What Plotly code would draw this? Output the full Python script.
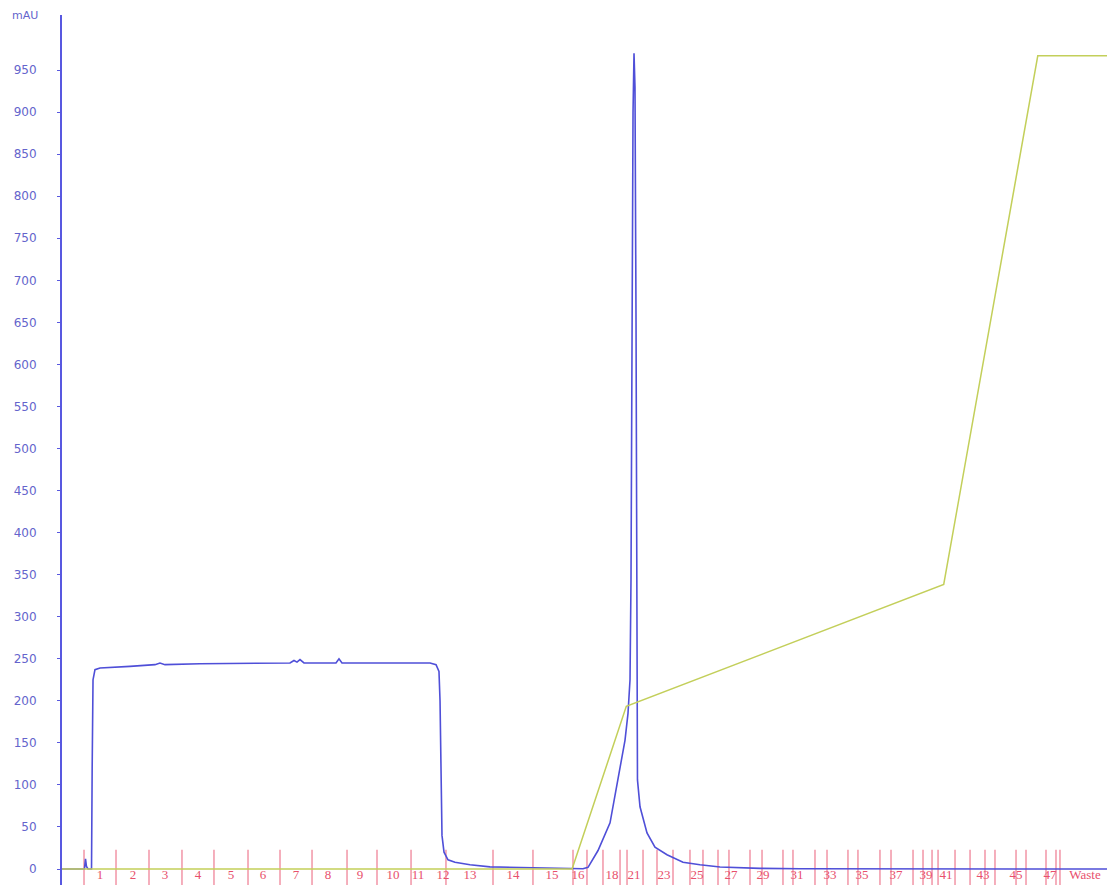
import plotly.graph_objects as go

# UV 280 nm trace (volume in ml, absorbance in mAU)
uv_ml = [0, 2.76, 3.44, 3.60, 3.75, 3.98, 4.52, 4.62, 4.75, 5.05, 5.82, 10.41, 14.24, 15.0,
         15.77, 21.13, 34.91, 35.52, 35.98, 36.44, 37.05, 41.95, 42.41, 42.87, 56.35, 57.27,
         57.72, 57.88, 58.03, 58.18, 58.49, 59.10, 60.17, 62.47, 65.53, 71.66, 79.77, 80.54,
         82.07, 83.91, 85.13, 86.20, 86.66, 86.97, 87.12, 87.27, 87.43, 87.58, 87.73, 87.89,
         88.04, 88.11, 88.50, 89.57, 90.79, 92.63, 95.08, 97.68, 100.75, 106.87, 113.0, 160.0]
uv_mau = [0, 0, 0, 12, 3, 0, 0, 120, 225, 237, 239, 241, 243, 245,
          243, 244, 245, 248, 246, 249, 245, 245, 250, 245, 245, 243,
          235, 200, 100, 40, 20, 11, 8, 5, 2.5, 1.2, 0.3, 2,
          22, 55, 106, 153, 185, 225, 344, 650, 900, 970, 930, 650,
          344, 106, 74, 43, 26, 17, 8, 5, 2.4, 0.8, 0.3, 0]

# Gradient programme (%B)
grad_ml = [0, 78.1, 86.4, 135.0, 149.4, 160.0]
grad_pct = [0, 0, 20, 35, 100, 100]

# Fraction collector marks (ml)
frac_ml = [3.37, 8.27, 13.32, 18.37, 23.27, 28.48, 33.38, 38.28, 43.64, 48.23, 53.44, 58.79,
           65.99, 72.11, 78.24, 80.38, 82.83, 85.44, 86.51, 88.96, 91.10, 93.55, 96.15, 98.14,
           100.44, 102.12, 105.34, 107.18, 110.39, 111.92, 115.29, 117.13, 120.34, 121.87,
           125.24, 126.93, 130.30, 131.83, 133.21, 134.13, 136.73, 139.03, 141.32, 142.85,
           146.07, 147.60, 150.66, 152.19, 152.80]

# Fraction labels and where they are printed (ml)
frac_labels = ["1", "2", "3", "4", "5", "6", "7", "8", "9", "10", "11", "12", "13", "14", "15",
               "16", "18", "21", "23", "25", "27", "29", "31", "33", "35", "37", "39", "41",
               "43", "45", "47", "Waste"]
frac_label_ml = [5.82, 10.87, 15.77, 20.82, 25.88, 30.78, 35.83, 40.73, 45.63, 50.68, 54.51,
                 58.33, 62.47, 69.05, 75.02, 79.00, 84.21, 87.58, 92.17, 97.22, 102.43, 107.33,
                 112.54, 117.59, 122.49, 127.69, 132.29, 135.35, 141.01, 146.07, 151.27, 156.63]

y_ticks = list(range(0, 951, 50))

Y_MIN, Y_MAX = -19.0, 1015.5
GRAD_FULL = 967.0  # mAU level drawn for 100 %B

AXIS_BLUE = "#5858e0"
LABEL_BLUE = "#6464cc"

fig = go.Figure()

# fraction marks as short vertical strokes across the baseline
fx, fy = [], []
for v in frac_ml:
    fx += [v, v, None]
    fy += [23, -19, None]
fig.add_trace(go.Scatter(x=fx, y=fy, mode="lines",
                         line=dict(color="#ee7a90", width=1.2),
                         hoverinfo="skip", showlegend=False))

fig.add_trace(go.Scatter(x=grad_ml, y=grad_pct, yaxis="y2", mode="lines",
                         line=dict(color="#c3cf5a", width=1.5),
                         name="Conc B", showlegend=False))

fig.add_trace(go.Scatter(x=uv_ml, y=uv_mau, mode="lines",
                         line=dict(color="#4f4fd8", width=1.6),
                         name="UV", showlegend=False))

fig.add_trace(go.Scatter(x=frac_label_ml, y=[-8.3] * len(frac_label_ml), mode="text",
                         text=frac_labels, cliponaxis=False,
                         textfont=dict(family="Liberation Serif", size=13, color="#e8506c"),
                         hoverinfo="skip", showlegend=False))

fig.update_layout(
    width=1107, height=885,
    margin=dict(l=62, r=0, t=15, b=0),
    plot_bgcolor="white", paper_bgcolor="white",
    xaxis=dict(range=[0, 160], visible=False, showgrid=False, zeroline=False),
    yaxis=dict(range=[Y_MIN, Y_MAX], tickvals=y_ticks, showgrid=False, zeroline=False,
               showline=True, linecolor=AXIS_BLUE, linewidth=2,
               ticks="outside", ticklen=3, tickcolor=AXIS_BLUE,
               ticklabelstandoff=18,
               tickfont=dict(family="DejaVu Sans", size=12, color=LABEL_BLUE)),
    yaxis2=dict(range=[Y_MIN / GRAD_FULL * 100, Y_MAX / GRAD_FULL * 100],
                overlaying="y", visible=False),
    annotations=[dict(text="mAU", xref="paper", yref="paper", x=-0.035, y=1.0,
                      xanchor="center", yanchor="middle", showarrow=False,
                      font=dict(family="DejaVu Sans", size=11, color=LABEL_BLUE))],
)

fig.write_html("out.html")
